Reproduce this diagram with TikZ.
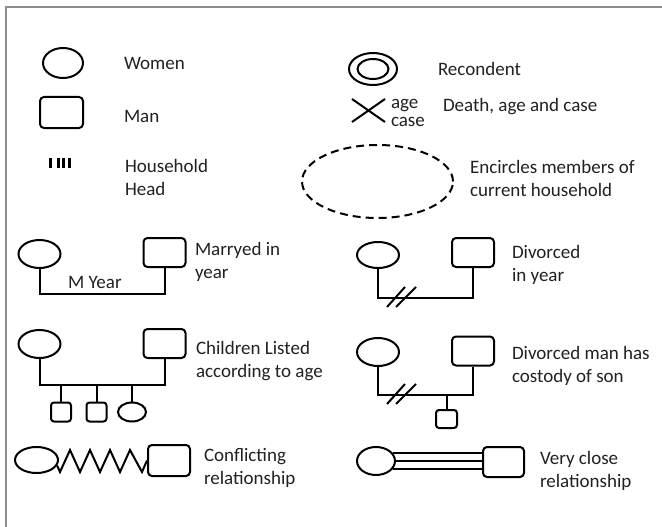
\documentclass[tikz,border=0pt]{standalone}
\usepackage{fontspec}
\setmainfont{Carlito}
\usetikzlibrary{shapes.geometric,shapes.misc}

\definecolor{framegray}{rgb}{0.55,0.55,0.55}
\definecolor{inkgray}{rgb}{0.14,0.12,0.13}

\tikzset{
  woman/.style={draw, ellipse, inner sep=0pt, minimum width=42pt, minimum height=28pt},
  man/.style={draw, rectangle, rounded corners=4pt, inner sep=0pt, minimum width=42pt, minimum height=29pt},
  kid/.style={draw, rectangle, rounded corners=3pt, inner sep=0pt, minimum width=20pt, minimum height=19pt},
  lbl/.style={anchor=base west, align=left, inner sep=0pt, text=inkgray,
    font=\fontsize{19}{23}\selectfont},
}

\begin{document}
\begin{tikzpicture}[x=1pt, y=-1pt, line width=2pt]
            \useasboundingbox (0,0) rectangle (662,527);
            \draw[framegray, line width=2pt] (6,527) -- (6,7) -- (662,7);

            % legend, left column
            \node[woman, minimum width=40pt, minimum height=30pt] (wl) at (63,63) {};
            \node[lbl] (twl) at (123,70) {Women};
            \node[man, minimum width=43pt, minimum height=31pt] (ml) at (61.5,112.5) {};
            \node[lbl] (tml) at (123,122) {Man};
            \foreach \x in {50,58,63.5,69}
                \draw[line width=3pt] (\x,158) -- (\x,168);
            \node[lbl] (thh) at (124,195) {Household\\Head};

            % legend, right column
            \node[draw, ellipse, inner sep=0pt, minimum width=48pt, minimum height=32pt] (rc) at (373,69) {};
            \node[draw, ellipse, inner sep=0pt, minimum width=31pt, minimum height=20pt] (rci) at (rc) {};
            \node[lbl] (trc) at (437,76) {Recondent};
            \node[cross out, draw, inner sep=0pt, minimum width=31pt, minimum height=21pt] (dx) at (368.5,110.5) {};
            \node[lbl, font=\fontsize{19}{18}\selectfont] (tdx) at (390,127) {age\\case};
            \node[lbl] (tde) at (442,112) {Death, age and case};
            \node[draw, ellipse, dashed, dash pattern=on 8pt off 5pt, inner sep=0pt,
                minimum width=151pt, minimum height=73pt] (hh) at (377.5,181.5) {};
            \node[lbl] (tenc) at (469,196) {Encircles members of\\current household};

            % married
            \node[woman] (w1) at (39.5,254) {};
            \node[man] (m1) at (164.5,252.5) {};
            \draw (w1.south) -- ++(0,25) -| (m1.south);
            \node[lbl] (tmy) at (67,288) {M Year};
            \node[lbl] (tm1) at (194,278) {Marryed in\\year};

            % children
            \node[woman] (w2) at (39.5,344) {};
            \node[man] (m2) at (164.5,343.5) {};
            \draw (w2.south) -- ++(0,26) -| (m2.south);
            \coordinate (cbar) at (0,384);
            \node[kid] (k1) at (61,412) {};
            \node[kid] (k2) at (96.5,412) {};
            \node[draw, ellipse, inner sep=0pt, minimum width=28pt, minimum height=19pt] (k3) at (132,412) {};
            \foreach \k in {k1,k2,k3}
                \draw (\k.north) -- (\k.north |- cbar);
            \node[lbl] (tm2) at (195,377) {Children Listed\\according to age};

            % conflict
            \node[woman, minimum width=43pt, minimum height=26pt] (w3) at (36.5,460) {};
            \node[man, minimum height=31pt] (m3) at (169,460.5) {};
            \draw[line join=miter] (w3.-15) -- (60,472) -- (70,450) -- (80,472) -- (90,450) -- (100,472)
                -- (110,450) -- (120,472) -- (130,450) -- (142,472) -- (m3.west);
            \node[lbl] (tm3) at (203,484) {Conflicting\\relationship};

            % divorced
            \node[woman, minimum height=26pt] (w5) at (378,255) {};
            \node[man] (m5) at (473,252.5) {};
            \draw (w5.south) -- ++(0,29) -| (m5.south);
            \draw (387,307) -- (405,287);
            \draw (396,307) -- (416,287);
            \node[lbl] (tm5) at (511,281) {Divorced\\in year};

            % custody
            \node[woman] (w6) at (378,352) {};
            \node[man] (m6) at (473,351) {};
            \draw (w6.south) -- ++(0,28) -| (m6.south);
            \coordinate (dbar) at (0,394);
            \draw (387,404) -- (405,384);
            \draw (396,404) -- (416,384);
            \node[kid, minimum width=21pt, minimum height=18pt] (k4) at (446.5,419) {};
            \draw (k4.north) -- (k4.north |- dbar);
            \node[lbl] (tm6) at (511,382) {Divorced man has\\costody of son};

            % very close
            \node[woman, minimum width=38pt] (w4) at (376,461) {};
            \node[man, minimum width=41pt, minimum height=30pt] (m4) at (503.5,462) {};
            \draw (w4.25) -- (w4.25 -| m4.west);
            \draw (w4.east) -- (w4.east -| m4.west);
            \draw (w4.-25) -- (w4.-25 -| m4.west);
            \node[lbl] (tm4) at (539,487) {Very close\\relationship};
\end{tikzpicture}
\end{document}
